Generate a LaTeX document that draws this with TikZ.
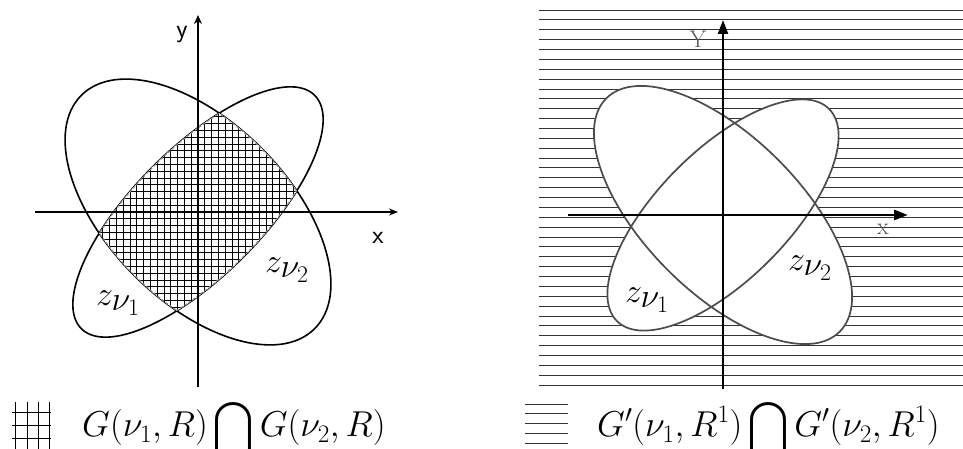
\RequirePackage{fix-cm}
\documentclass[tikz,border=0pt]{standalone}
\usepackage{amsmath}
\usepackage{amssymb}
\usepackage{tikz}
\usetikzlibrary{arrows.meta,positioning}

\begin{document}
\begin{tikzpicture}[
    x=1pt, y=1pt,
    oval/.style={draw=black, line width=1.6pt},
    ovalgray/.style={draw=black!70, line width=1.7pt},
    rim/.style={draw=black!45, line width=1.8pt, densely dashed},
    axis/.style={draw=black, line width=1.6pt},
    thickaxis/.style={draw=black, line width=2.8pt},
    hatch/.style={draw=black!80, line width=0.9pt},
    mesh/.style={draw=black, line width=0.7pt},
    zlabel/.style={font=\fontsize{34}{38}\selectfont, inner sep=0pt},
    legend/.style={font=\fontsize{36}{40}\selectfont, inner sep=0pt, anchor=base west},
    axlabel/.style={font=\sffamily\fontsize{26}{30}\selectfont, inner sep=0pt},
    axlabelr/.style={font=\rmfamily\fontsize{24}{28}\selectfont, text=black!65, inner sep=0pt}
]
\useasboundingbox (0,0) rectangle (963,449);

% Left panel
\coordinate (O1) at (198,237);
\draw[oval, rotate=-45] (O1) ellipse [x radius=165, y radius=90];
\draw[oval, rotate=45] (O1) ellipse [x radius=165, y radius=64];

% overlap of both regions
\begin{scope}
  \clip[rotate=-45] (O1) ellipse [x radius=165, y radius=90];
  \clip[rotate=45] (O1) ellipse [x radius=165, y radius=64];
  \fill[white] (0,0) rectangle (420,449);
  \draw[mesh, shift={(O1)}] (-200,-200) grid[step=6.8pt] (200,200);
  \draw[rim, rotate=-45] (O1) ellipse [x radius=165, y radius=90];
  \draw[rim, rotate=45] (O1) ellipse [x radius=165, y radius=64];
\end{scope}

\coordinate (x1a) at (35,237);
\coordinate (x1b) at (398,237);
\coordinate (y1a) at (198,62);
\coordinate (y1b) at (198,434);
\draw[axis, -{Stealth[length=9pt,width=7pt]}] (x1a) -- (x1b);
\draw[thickaxis, -{Stealth[length=9pt,width=8pt]}] (y1a) -- (y1b);

\node[axlabel] (ylbl1) at (182,414) {y};
\node[axlabel] (xlbl1) at (378,211) {x};
\node[zlabel] (z1) at (118,146) {$z_{\textstyle\nu_1}$};
\node[zlabel] (z2) at (287,179) {$z_{\textstyle\nu_2}$};

% Right panel
\coordinate (O2) at (723,234);
\foreach \i in {0,...,38}
  \draw[hatch] (539,{439-9.87*\i}) -- (963,{439-9.87*\i});

\fill[white, rotate=-45] (O2) ellipse [x radius=165, y radius=78];
\fill[white, rotate=45] (O2) ellipse [x radius=150, y radius=65];
\draw[ovalgray, rotate=-45] (O2) ellipse [x radius=165, y radius=78];
\draw[ovalgray, rotate=45] (O2) ellipse [x radius=150, y radius=65];

\coordinate (x2a) at (568,234);
\coordinate (x2b) at (908,234);
\coordinate (y2a) at (723,60);
\coordinate (y2b) at (723,429);
\draw[thickaxis, -{Triangle[length=14pt,width=10pt]}] (x2a) -- (x2b);
\draw[line width=2.2pt, -{Triangle[length=14pt,width=10pt]}] (y2a) -- (y2b);

\node[axlabelr] (ylbl2) at (698,410) {Y};
\node[axlabelr] (xlbl2) at (883,220) {x};
\node[zlabel] (z3) at (647,149) {$z_{\textstyle\nu_1}$};
\node[zlabel] (z4) at (810,181) {$z_{\textstyle\nu_2}$};

% Legend
\draw[mesh, line width=0.9pt] (12,37) -- (51,37) (12,24) -- (51,24) (12,11) -- (51,11)
  (15,0) -- (15,47) (27,0) -- (27,47) (38,0) -- (38,47) (49,0) -- (49,47);
\node[legend] (leg1) at (82,12) {$\displaystyle G(\nu_1, R)\bigcap G(\nu_2, R)$};

\foreach \yy in {45,36,26,16,6}
  \draw[hatch] (525,\yy) -- (568,\yy);
\node[legend] (leg2) at (597,12) {$\displaystyle G'(\nu_1, R^1)\bigcap G'(\nu_2, R^1)$};

\end{tikzpicture}
\end{document}
